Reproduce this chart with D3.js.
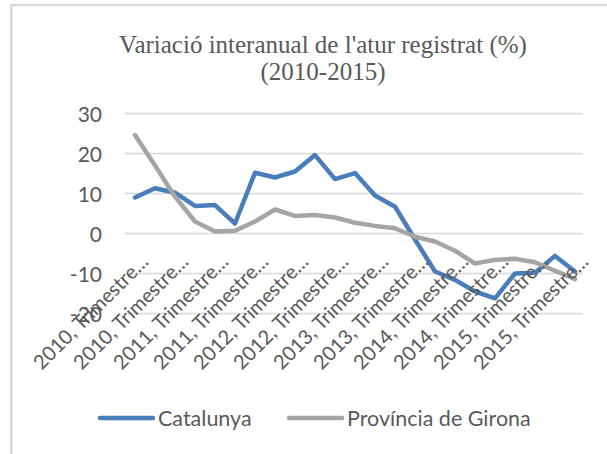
<!DOCTYPE html>
<html><head><meta charset="utf-8">
<script src="https://cdn.jsdelivr.net/npm/d3@7"></script>
<style>body{margin:0;background:#fff}svg{display:block}</style>
</head><body>
<svg id="c" width="607" height="454"></svg>
<script>
const years = [2010,2010,2010,2010,2011,2011,2011,2011,2012,2012,2012,2012,2013,2013,2013,2013,2014,2014,2014,2014,2015,2015,2015];
const quarters = [1,2,3,4,1,2,3,4,1,2,3,4,1,2,3,4,1,2,3,4,1,2,3];
const categories = years.map((y,i)=>y+", Trimestre "+quarters[i]);
const catalunya = [9.0,11.3,10.2,6.9,7.1,2.5,15.2,14.0,15.5,19.6,13.6,15.1,9.5,6.7,-1.5,-9.5,-11.6,-14.5,-16.2,-10.0,-9.8,-5.6,-9.5];
const girona = [24.6,17.0,9.2,3.0,0.5,0.7,3.0,6.0,4.4,4.6,4.0,2.7,1.9,1.3,-0.8,-2.0,-4.3,-7.5,-6.6,-6.3,-7.2,-9.3,-11.4];
const yTicks = [30,20,10,0,-10,-20];
const seriesNames = ["Catalunya","Província de Girona"];
const seriesColors = ["#4a7ebb","#a5a5a5"];
const titleLines = ["Variació interanual de l'atur registrat (%)","(2010-2015)"];

const svg = d3.select("#c");
const textColor = "#595959";
const sansFont = "Lato, 'Open Sans', sans-serif";

// chart border (left & top visible)
svg.append("rect").attr("x",11.25).attr("y",5).attr("width",700).attr("height",600)
  .attr("fill","#fff").attr("stroke","#d9d9d9").attr("stroke-width",2.5);

const x = d3.scalePoint().domain(categories).range([135,575]);
const y = d3.scaleLinear().domain([-20,30]).range([313.5,113.5]);

// gridlines
const grid = svg.append("g").attr("class","grid");
grid.selectAll("line").data(yTicks).join("line")
  .attr("x1",125).attr("x2",583)
  .attr("y1",d=>y(d)).attr("y2",d=>y(d))
  .attr("stroke","#d9d9d9").attr("stroke-width",1.5);

// y axis
const yAxis = d3.axisLeft(y).tickValues(yTicks).tickSize(0).tickPadding(0)
  .tickFormat(d=>d<0?"-"+Math.abs(d):String(d));
const yg = svg.append("g").attr("transform","translate(102,0)").call(yAxis);
yg.select(".domain").remove();
yg.selectAll("text").attr("fill",textColor).attr("font-family",sansFont).attr("font-size",21).attr("dy","0.36em");

// lines
const line = d3.line().x((d,i)=>x(categories[i])).y(d=>y(d));
[catalunya,girona].forEach((s,k)=>{
  svg.append("path").datum(s).attr("d",line).attr("fill","none")
    .attr("stroke",seriesColors[k]).attr("stroke-width",4.5)
    .attr("stroke-linejoin","round").attr("stroke-linecap","round");
});

// x axis labels (every other category, truncated)
const xAxis = d3.axisBottom(x).tickValues(categories.filter((d,i)=>i%2===0)).tickSize(0)
  .tickFormat(d=>d.split(", ")[0]+", Trimestre…");
const xg = svg.append("g").attr("transform","translate(0,263)").call(xAxis);
xg.select(".domain").remove();
xg.selectAll("text").attr("fill",textColor).attr("font-family",sansFont).attr("font-size",20)
  .attr("text-anchor","end").attr("y",0).attr("dy",0)
  .attr("transform","translate(14,0) rotate(-45)");

// title
svg.append("g").selectAll("text").data(titleLines).join("text")
  .attr("x",323).attr("y",(d,i)=>53+i*27)
  .attr("text-anchor","middle").attr("fill",textColor)
  .attr("font-family","'Liberation Serif', serif").attr("font-size",25)
  .text(d=>d);

// legend
const legendItems = [{x:100},{x:289}];
const lg = svg.append("g");
seriesNames.forEach((n,k)=>{
  const lx = legendItems[k].x;
  lg.append("line").attr("x1",lx).attr("x2",lx+53).attr("y1",418).attr("y2",418)
    .attr("stroke",seriesColors[k]).attr("stroke-width",4.5).attr("stroke-linecap","round");
  lg.append("text").attr("x",lx+58).attr("y",418).attr("dy","0.35em")
    .attr("fill",textColor).attr("font-family",sansFont).attr("font-size",21.5).text(n);
});
</script>
</body></html>
